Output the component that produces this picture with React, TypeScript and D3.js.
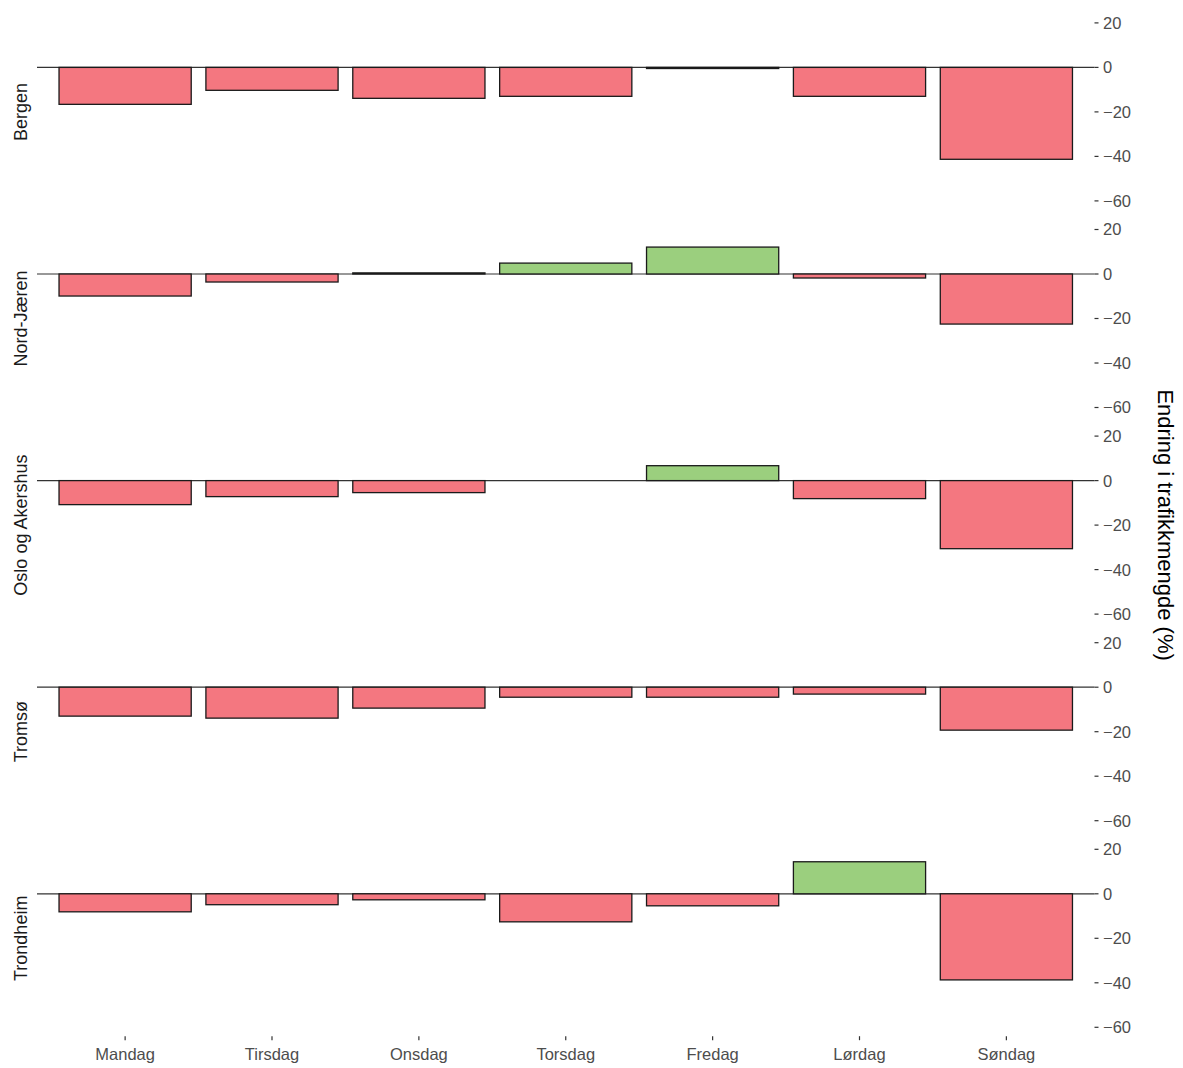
import React from "react";
import * as d3 from "d3";

// ukedager og områder
const days = ["Mandag", "Tirsdag", "Onsdag", "Torsdag", "Fredag", "Lørdag", "Søndag"];
const regions = ["Bergen", "Nord-Jæren", "Oslo og Akershus", "Tromsø", "Trondheim"];

// endring i trafikkmengde (%) per ukedag
const bergen = [-16.6, -10.3, -13.9, -13.0, -0.5, -13.0, -41.3];
const nordJaeren = [-9.9, -3.6, 0.5, 4.9, 12.1, -1.8, -22.5];
const osloAkershus = [-10.8, -7.2, -5.4, null, 6.7, -8.1, -30.6];
const tromso = [-13.0, -13.9, -9.4, -4.5, -4.5, -3.1, -19.3];
const trondheim = [-8.1, -4.9, -2.7, -12.6, -5.4, 14.4, -38.7];

const yTicks = [20, 0, -20, -40, -60];

const seriesList = [bergen, nordJaeren, osloAkershus, tromso, trondheim];

function FacetChart() {
  const ref = React.useRef<SVGSVGElement>(null);
  const width = 1183;
  const height = 1068;

  React.useEffect(() => {
    const svg = d3.select(ref.current);
    svg.selectAll("*").remove();

    const left = 37;
    const right = 1094.5;
    const top = 14;
    const panelH = 195.8;
    const step = 206.6;
    const font = "'Liberation Sans', Arial, sans-serif";

    const x = d3.scalePoint<string>().domain(days).range([left, right]).padding(0.6);
    const barW = x.step() * 0.9;

    regions.forEach((region, i) => {
      const values = seriesList[i];
      const pTop = top + i * step;
      const y = d3.scaleLinear().domain([-64, 24]).range([pTop + panelH, pTop]);
      const g = svg.append("g");

      // nullinje
      g.append("line")
        .attr("x1", left)
        .attr("x2", right)
        .attr("y1", y(0))
        .attr("y2", y(0))
        .attr("stroke", "#333")
        .attr("stroke-width", 1.2);

      const rows = days
        .map((d, j) => ({ day: d, value: values[j] }))
        .filter((r) => r.value !== null) as { day: string; value: number }[];

      g.selectAll("rect")
        .data(rows)
        .enter()
        .append("rect")
        .attr("x", (d) => x(d.day)! - barW / 2)
        .attr("width", barW)
        .attr("y", (d) => y(Math.max(0, d.value)))
        .attr("height", (d) => Math.abs(y(d.value) - y(0)))
        .attr("fill", (d) => (d.value >= 0 ? "#9bcf7e" : "#f47780"))
        .attr("stroke", "#1a1a1a")
        .attr("stroke-width", 1.3);

      // y-akse til høyre
      const axis = g.append("g");
      yTicks.forEach((t) => {
        axis.append("line")
          .attr("x1", right)
          .attr("x2", right + 4)
          .attr("y1", y(t))
          .attr("y2", y(t))
          .attr("stroke", "#333")
          .attr("stroke-width", 1.2);
        axis.append("text")
          .attr("x", right + 8.5)
          .attr("y", y(t))
          .attr("dy", "0.36em")
          .style("font-family", font)
          .style("font-size", "16.5px")
          .style("fill", "#4d4d4d")
          .text(d3.format("d")(t).replace("-", "\u2212"));
      });

      // stripe-tekst til venstre
      g.append("text")
        .attr("transform", `translate(21, ${pTop + panelH / 2}) rotate(-90)`)
        .attr("dy", "0.35em")
        .attr("text-anchor", "middle")
        .style("font-family", font)
        .style("font-size", "18px")
        .style("fill", "#1a1a1a")
        .text(region);
    });

    // x-akse
    const bottom = top + 4 * step + panelH;
    const xAxis = svg.append("g");
    days.forEach((d) => {
      xAxis.append("line")
        .attr("x1", x(d)!)
        .attr("x2", x(d)!)
        .attr("y1", bottom)
        .attr("y2", bottom + 4)
        .attr("stroke", "#333")
        .attr("stroke-width", 1.2);
      xAxis.append("text")
        .attr("x", x(d)!)
        .attr("y", bottom + 24)
        .attr("text-anchor", "middle")
        .style("font-family", font)
        .style("font-size", "16.5px")
        .style("fill", "#4d4d4d")
        .text(d);
    });

    // aksetittel
    svg.append("text")
      .attr("transform", `translate(1166, ${(top + bottom) / 2}) rotate(90)`)
      .attr("dy", "0.35em")
      .attr("text-anchor", "middle")
      .style("font-family", font)
      .style("font-size", "22px")
      .style("fill", "#000")
      .text("Endring i trafikkmengde (%)");
  }, []);

  return (
    <svg
      ref={ref}
      width={width}
      height={height}
      style={{ position: "absolute", left: 0, top: 0, background: "#fff" }}
    />
  );
}

export default function App() {
  return <FacetChart />;
}
